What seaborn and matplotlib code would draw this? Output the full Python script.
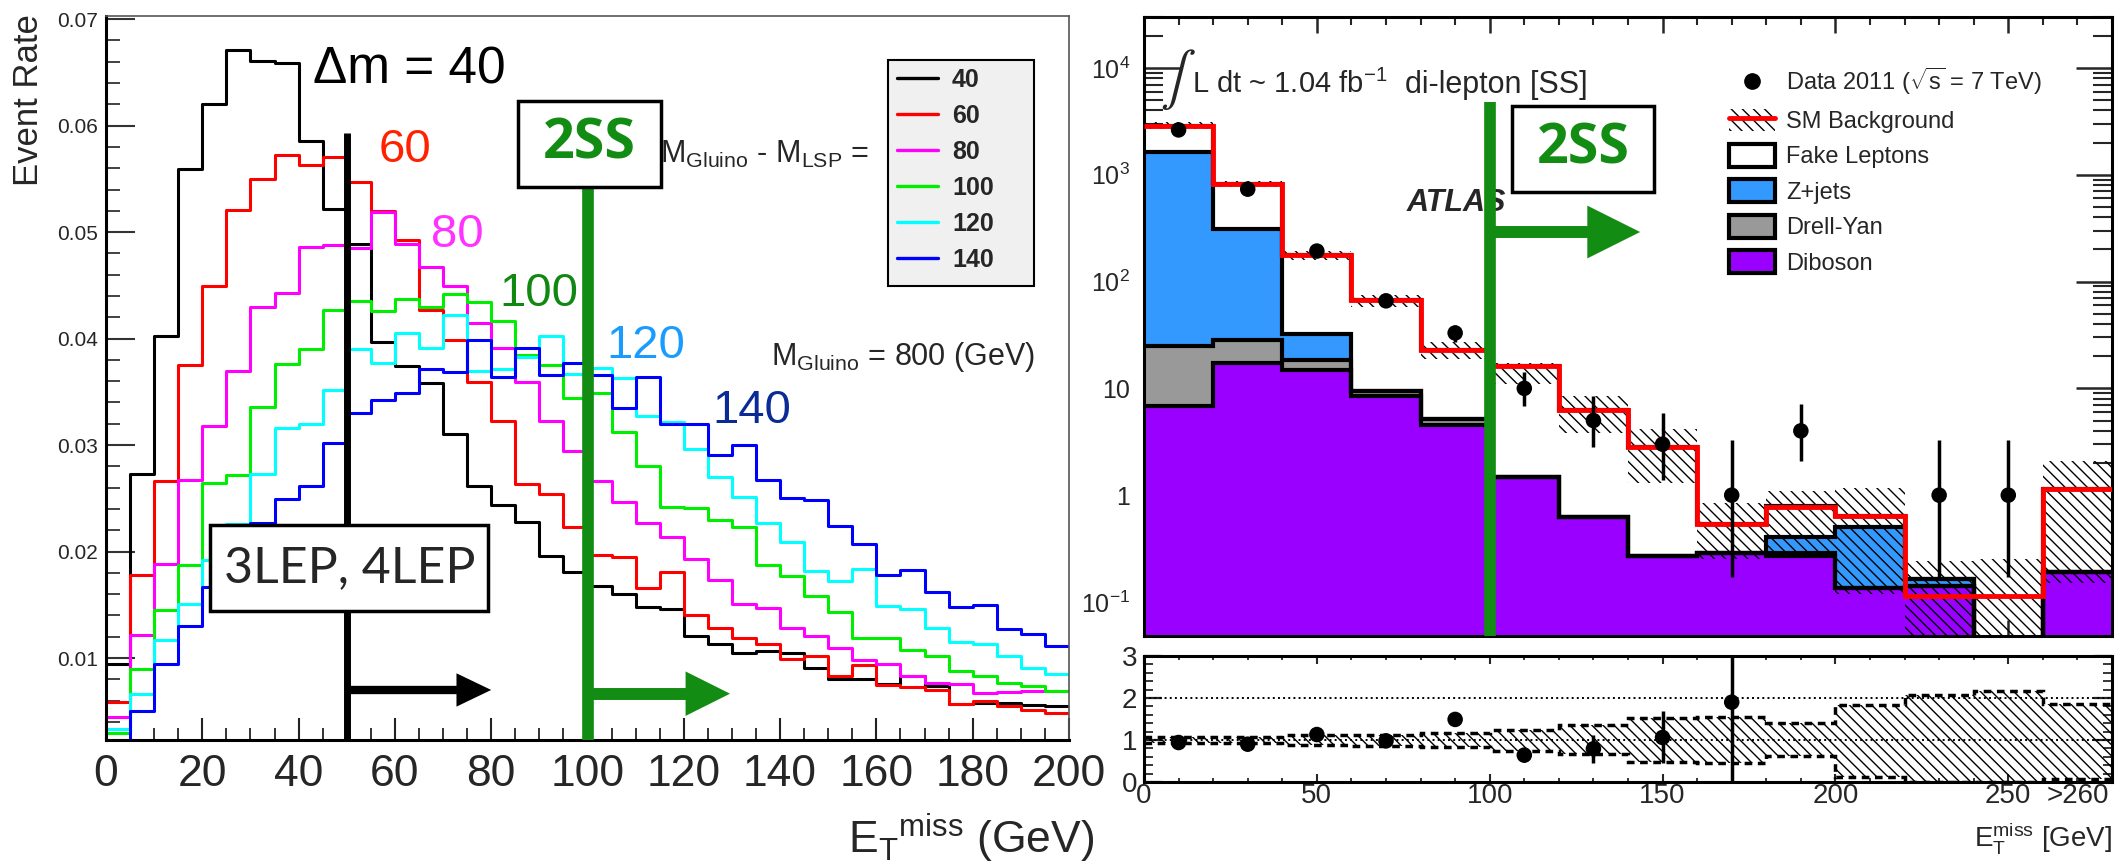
import numpy as np
import pandas as pd
import matplotlib
matplotlib.use("Agg")
import matplotlib.pyplot as plt
import seaborn as sns
from matplotlib.patches import Rectangle, Patch, FancyArrowPatch
from matplotlib.lines import Line2D
from matplotlib.ticker import FixedLocator, FuncFormatter, LogLocator, MultipleLocator, NullFormatter

# ---------------- data: left panel (normalised ETmiss shapes, 5 GeV bins, 0-200 GeV) -------------
dm_labels = ["40", "60", "80", "100", "120", "140"]
rate_40 = [0.0094, 0.0273, 0.0402, 0.0559, 0.0620, 0.0671, 0.0661, 0.0659, 0.0586, 0.0522,
           0.0489, 0.0397, 0.0374, 0.0358, 0.0310, 0.0262, 0.0244, 0.0228, 0.0196, 0.0181,
           0.0168, 0.0160, 0.0148, 0.0146, 0.0121, 0.0113, 0.0105, 0.0107, 0.0105, 0.0091,
           0.0080, 0.0080, 0.0076, 0.0083, 0.0074, 0.0057, 0.0058, 0.0058, 0.0056, 0.0055]
rate_60 = [0.0059, 0.0178, 0.0266, 0.0375, 0.0449, 0.0521, 0.0550, 0.0572, 0.0563, 0.0571,
           0.0547, 0.0520, 0.0493, 0.0427, 0.0399, 0.0359, 0.0323, 0.0263, 0.0254, 0.0223,
           0.0197, 0.0195, 0.0166, 0.0181, 0.0140, 0.0128, 0.0119, 0.0113, 0.0099, 0.0102,
           0.0083, 0.0093, 0.0075, 0.0073, 0.0070, 0.0057, 0.0060, 0.0055, 0.0051, 0.0048]
rate_80 = [0.0045, 0.0122, 0.0188, 0.0267, 0.0318, 0.0370, 0.0430, 0.0443, 0.0486, 0.0488,
           0.0485, 0.0519, 0.0489, 0.0467, 0.0449, 0.0415, 0.0391, 0.0359, 0.0323, 0.0294,
           0.0266, 0.0247, 0.0227, 0.0214, 0.0193, 0.0173, 0.0151, 0.0147, 0.0128, 0.0121,
           0.0109, 0.0098, 0.0094, 0.0083, 0.0077, 0.0076, 0.0067, 0.0068, 0.0069, 0.0069]
rate_100 = [0.0030, 0.0090, 0.0145, 0.0187, 0.0264, 0.0272, 0.0336, 0.0376, 0.0390, 0.0427,
            0.0435, 0.0426, 0.0437, 0.0430, 0.0442, 0.0434, 0.0417, 0.0385, 0.0375, 0.0344,
            0.0349, 0.0312, 0.0280, 0.0242, 0.0241, 0.0230, 0.0223, 0.0187, 0.0177, 0.0158,
            0.0143, 0.0119, 0.0119, 0.0108, 0.0102, 0.0088, 0.0083, 0.0077, 0.0074, 0.0069]
rate_120 = [0.0033, 0.0066, 0.0117, 0.0151, 0.0192, 0.0226, 0.0273, 0.0316, 0.0320, 0.0352,
            0.0390, 0.0377, 0.0405, 0.0391, 0.0422, 0.0370, 0.0371, 0.0383, 0.0402, 0.0367,
            0.0372, 0.0363, 0.0327, 0.0322, 0.0296, 0.0270, 0.0251, 0.0227, 0.0209, 0.0182,
            0.0172, 0.0184, 0.0149, 0.0146, 0.0128, 0.0115, 0.0113, 0.0102, 0.0091, 0.0085]
rate_140 = [0.0023, 0.0050, 0.0094, 0.0130, 0.0167, 0.0225, 0.0227, 0.0249, 0.0262, 0.0302,
            0.0330, 0.0342, 0.0349, 0.0371, 0.0369, 0.0399, 0.0364, 0.0391, 0.0366, 0.0377,
            0.0366, 0.0335, 0.0364, 0.0320, 0.0320, 0.0291, 0.0300, 0.0267, 0.0250, 0.0248,
            0.0224, 0.0207, 0.0178, 0.0183, 0.0162, 0.0148, 0.0150, 0.0127, 0.0123, 0.0111]

# ---------------- data: right panel (20 GeV bins, 0-280, last = overflow) -------------------------
data_2011 = [2630, 733, 193, 66, 33, 10, 5, 3, 1, 4, np.nan, 1, 1, np.nan]
data_hi = [2680, 760, 207, 74, 39, 14.3, 8.4, 5.9, 3.3, 7.2, np.nan, 3.3, 3.3, np.nan]
data_lo = [2580, 706, 179, 58, 27, 6.9, 2.8, 1.4, 0.17, 2.1, np.nan, 0.17, 0.17, np.nan]
sm_total = [2890, 817, 176, 67, 22.9, 16.2, 6.25, 2.83, 0.54, 0.78, 0.64, 0.114, 0.114, 1.15]
sm_band_lo = [2700, 760, 160, 58, 19, 11, 3.8, 1.3, 0.25, 0.30, 0.12, 0.001, 0.001, 0.15]
sm_band_hi = [3100, 880, 195, 75, 27, 17.3, 8.5, 4.2, 0.85, 1.1, 1.17, 0.24, 0.25, 2.1]
fake_leptons = [1270, 504, 144, 57.6, 17.7, 14.7, 5.6, 2.56, 0.25, 0.38, 0.13, 0.0, 0.0, 0.96]
z_jets = [1595, 284, 13.8, 0, 0, 0, 0, 0, 0, 0.12, 0.37, 0.023, 0, 0]
drell_yan = [18.2, 11.3, 3.6, 1.0, 0.7, 0.02, 0, 0, 0, 0.02, 0, 0, 0, 0]
diboson = [6.8, 17.2, 14.9, 8.4, 4.5, 1.47, 0.62, 0.27, 0.29, 0.27, 0.136, 0.14, 0.0, 0.19]

ratio_val = [0.94, 0.90, 1.13, 0.98, 1.49, 0.64, 0.79, 1.06, 1.90, np.nan, np.nan, np.nan, np.nan, np.nan]
ratio_hi = [0.97, 0.95, 1.21, 1.10, 1.65, 0.80, 1.13, 1.69, 6.0, np.nan, np.nan, np.nan, np.nan, np.nan]
ratio_lo = [0.91, 0.85, 1.05, 0.86, 1.33, 0.48, 0.46, 0.46, 0.0, np.nan, np.nan, np.nan, np.nan, np.nan]
ratio_band_lo = [0.93, 0.93, 0.87, 0.85, 0.83, 0.75, 0.66, 0.48, 0.46, 0.63, 0.12, 0.0, 0.0, 0.06]
ratio_band_hi = [1.07, 1.07, 1.12, 1.12, 1.17, 1.25, 1.36, 1.52, 1.54, 1.40, 1.83, 2.07, 2.17, 1.85]

x_tick_labels_R = ["0", "50", "100", "150", "200", "250"]

# ---------------- style --------------------------------------------------------------------------
sns.set_theme(style="white")
plt.rcParams["font.family"] = ["Liberation Sans", "DejaVu Sans"]
plt.rcParams["mathtext.fontset"] = "custom"
plt.rcParams["mathtext.rm"] = "Liberation Sans"
plt.rcParams["mathtext.it"] = "Liberation Sans:italic"
plt.rcParams["mathtext.bf"] = "Liberation Sans:bold"
plt.rcParams["hatch.linewidth"] = 1.0

W, H = 2119, 867
fig = plt.figure(figsize=(W / 100, H / 100), dpi=100)
fig.patch.set_facecolor("white")


def rect(x0, y0, x1, y1):
    return [x0 / W, 1 - y1 / H, (x1 - x0) / W, (y1 - y0) / H]


def fx(x):
    return x / W


def fy(y):
    return 1 - y / H


axL = fig.add_axes(rect(106, 16, 1069, 740))
axR = fig.add_axes(rect(1144, 17, 2112, 636))
axQ = fig.add_axes(rect(1144, 656, 2112, 782))

GREEN = "#128c12"

# ================================ LEFT PANEL ======================================================
nbinsL = len(rate_40)
centersL = np.arange(nbinsL) * 5 + 2.5
colorsL = ["#000000", "#ff0000", "#ff00ff", "#00ee00", "#00ffff", "#0000ff"]
series = [rate_40, rate_60, rate_80, rate_100, rate_120, rate_140]
df = pd.concat([pd.DataFrame({"met": centersL, "rate": s, "dm": lab})
                for s, lab in zip(series, dm_labels)], ignore_index=True)
sns.histplot(data=df, x="met", weights="rate", hue="dm", hue_order=dm_labels[::-1],
             bins=nbinsL, binrange=(0, 200), element="step", fill=False,
             palette=dict(zip(dm_labels, colorsL)), linewidth=2.2, legend=False, ax=axL)
axL.set_xlim(0, 200)
axL.set_ylim(0.0023, 0.0703)
axL.set_xlabel("")
axL.set_ylabel("")
axL.xaxis.set_major_locator(MultipleLocator(20))
axL.xaxis.set_minor_locator(MultipleLocator(5))
axL.yaxis.set_major_locator(FixedLocator([0.01, 0.02, 0.03, 0.04, 0.05, 0.06, 0.07]))
axL.yaxis.set_minor_locator(MultipleLocator(0.002))
axL.yaxis.set_major_formatter(FuncFormatter(lambda v, p: f"{v:.2f}"))
axL.tick_params(axis="x", which="major", direction="in", length=16, width=1.5, labelsize=32, pad=10,
                bottom=True, top=False, color="#222222")
axL.tick_params(axis="x", which="minor", direction="in", length=8.5, width=1.3, bottom=True, top=False,
                color="#222222")
axL.tick_params(axis="y", which="major", direction="in", length=21, width=1.5, labelsize=15, pad=6,
                left=True, right=False, color="#333333")
axL.tick_params(axis="y", which="minor", direction="in", length=10, width=1.3, left=True, right=False,
                color="#333333")
for s in ["left", "bottom"]:
    axL.spines[s].set_linewidth(2.2)
    axL.spines[s].set_color("black")
for s in ["top", "right"]:
    axL.spines[s].set_linewidth(1.2)
    axL.spines[s].set_color("#555555")

fig.text(fx(28), fy(14), "Event Rate", rotation=90, ha="center", va="top", fontsize=25)
fig.text(fx(1094), fy(853), r"E$_{\mathrm{T}}$$^{\mathrm{miss}}$ (GeV)", ha="right", va="baseline",
         fontsize=32)

# labels on curves
axL.text(43, 0.0640, "Δm = 40", fontsize=37, color="black", ha="left", va="baseline", zorder=6)
axL.text(56.7, 0.0566, "60", fontsize=34, color="#ff2200", ha="left", va="baseline", zorder=6)
axL.text(67.5, 0.0486, "80", fontsize=34, color="#ff33ff", ha="left", va="baseline", zorder=6)
axL.text(81.8, 0.0431, "100", fontsize=34, color="#118811", ha="left", va="baseline", zorder=6)
axL.text(103.9, 0.0382, "120", fontsize=34, color="#1a9cff", ha="left", va="baseline", zorder=6)
axL.text(126.0, 0.0321, "140", fontsize=34, color="#0a2a96", ha="left", va="baseline", zorder=6)
axL.text(115.0, 0.0565, r"M$_{\mathrm{Gluino}}$ - M$_{\mathrm{LSP}}$ =", fontsize=22, ha="left",
         va="baseline", zorder=6)
axL.text(138.1, 0.0375, r"M$_{\mathrm{Gluino}}$ = 800 (GeV)", fontsize=22, ha="left",
         va="baseline", zorder=6)

# cut lines and arrows
axL.plot([50, 50], [0.0023, 0.0593], color="black", lw=5, solid_capstyle="butt", zorder=3)
axL.plot([100, 100], [0.0023, 0.0542], color=GREEN, lw=8.4, solid_capstyle="butt", zorder=3)
axL.plot([50, 73.5], [0.0070, 0.0070], color="black", lw=6, solid_capstyle="butt", zorder=3)
axL.add_patch(FancyArrowPatch(posA=(60, 0.0070), posB=(80, 0.0070),
                              arrowstyle="-|>,head_length=25,head_width=12", mutation_scale=1,
                              lw=0, color="black", shrinkA=0, shrinkB=0, zorder=3))
axL.plot([100, 121], [0.00665, 0.00665], color=GREEN, lw=8.6, solid_capstyle="butt", zorder=3)
axL.add_patch(FancyArrowPatch(posA=(110, 0.00665), posB=(129.6, 0.00665),
                              arrowstyle="-|>,head_length=32,head_width=16", mutation_scale=1,
                              lw=0, color=GREEN, shrinkA=0, shrinkB=0, zorder=3))

# boxes
axL.add_patch(Rectangle((0.428, 0.764), 0.148, 0.119, transform=axL.transAxes, fc="white",
                        ec="black", lw=2.5, zorder=4))
axL.text(0.502, 0.8235, "2SS", transform=axL.transAxes, ha="center", va="center", fontsize=40,
         fontweight="bold", family=["Open Sans", "DejaVu Sans"], color=GREEN, zorder=5)
axL.add_patch(Rectangle((0.108, 0.178), 0.289, 0.119, transform=axL.transAxes, fc="white",
                        ec="black", lw=2.5, zorder=4))
axL.text(0.2534, 0.2376, "3LEP, 4LEP", transform=axL.transAxes, ha="center", va="center",
         fontsize=36, family=["Lato", "DejaVu Sans"], zorder=5)

# legend (left)
axL.add_patch(Rectangle((0.8120, 0.6271), 0.1516, 0.3122, transform=axL.transAxes,
                        fc="#f0f0f0", ec="black", lw=1.5, zorder=5))
hL = [Line2D([0], [0], color=c, lw=2.4) for c in colorsL]
legL = axL.legend(hL, dm_labels, loc="upper left", bbox_to_anchor=(0.8214, 0.928),
                  bbox_transform=axL.transAxes, frameon=False, borderpad=0, borderaxespad=0,
                  handlelength=1.64, handletextpad=0.56, labelspacing=0.48,
                  prop={"weight": "bold", "size": 18})
legL.set_zorder(6)

# ================================ RIGHT PANEL (main) ==============================================
edgesR = np.arange(0, 300, 20)
centersR = edgesR[:-1] + 10
l1 = np.array(diboson, float)
l2 = l1 + np.array(drell_yan, float)
l3 = l2 + np.array(z_jets, float)
l4 = l3 + np.array(fake_leptons, float)

axR.set_yscale("log")
axR.set_xlim(0, 280)
axR.set_ylim(0.048, 3.0e4)
for lay, col in [(l4, "white"), (l3, "#3399ff"), (l2, "#999999"), (l1, "#9900ff")]:
    axR.stairs(lay, edgesR, baseline=1e-4, fill=True, facecolor=col, edgecolor="none", lw=0, zorder=1)
for lay in [l4, l3, l2, l1]:
    axR.stairs(lay, edgesR, baseline=None, color="black", lw=3, zorder=2)
axR.stairs(sm_band_hi, edgesR, baseline=sm_band_lo, fill=True, facecolor="none", edgecolor="black",
           hatch="\\\\\\", lw=0, zorder=3)
axR.stairs(sm_total, edgesR, baseline=None, color="#ff0000", lw=3.5, zorder=4)
d = np.array(data_2011, float)
axR.errorbar(centersR, d, yerr=[d - np.array(data_lo), np.array(data_hi) - d], fmt="none",
             ecolor="black", elinewidth=2.5, capsize=0, zorder=5)
sns.scatterplot(x=centersR, y=d, color="black", s=125, edgecolor="none", ax=axR, zorder=6,
                legend=False)

axR.yaxis.set_major_locator(FixedLocator([0.1, 1, 10, 100, 1000, 10000]))
ylab = {-1: r"10$^{\mathrm{-1}}$", 0: "1", 1: "10", 2: r"10$^{2}$", 3: r"10$^{3}$", 4: r"10$^{4}$"}
axR.yaxis.set_major_formatter(FuncFormatter(lambda v, p: ylab.get(int(round(np.log10(v))), "")))
axR.yaxis.set_minor_locator(LogLocator(base=10, subs=np.arange(2, 10), numticks=30))
axR.yaxis.set_minor_formatter(NullFormatter())
axR.xaxis.set_major_locator(MultipleLocator(50))
axR.xaxis.set_minor_locator(MultipleLocator(10))
axR.tick_params(axis="y", which="major", direction="in", length=26, width=1.8, labelsize=18, pad=10,
                left=True, right=True)
axR.tick_params(axis="y", which="minor", direction="in", length=13.5, width=1.5, left=True, right=True)
axR.tick_params(axis="x", which="major", direction="in", length=11.5, width=1.8, top=True, bottom=True,
                labelbottom=False)
axR.tick_params(axis="x", which="minor", direction="in", length=5.8, width=1.5, top=True, bottom=True)
for s in axR.spines.values():
    s.set_linewidth(2.2)
    s.set_color("black")
axR.set_xlabel("")
axR.set_ylabel("")

# annotations right
fig.text(fx(1160), fy(80), r"$\int$", fontsize=38, ha="left", va="center", math_fontfamily="stix")
fig.text(fx(1192), fy(93), r"L dt ~ 1.04 fb$^{\mathrm{-1}}$", fontsize=21, ha="left", va="baseline")
fig.text(fx(1405), fy(93), "di-lepton [SS]", fontsize=22, ha="left", va="baseline")
axR.text(76, 545, "ATLAS", fontsize=22, fontweight="bold", fontstyle="italic", ha="left",
         va="center", zorder=5.5)
axR.plot([100, 100], [0.048, 4800], color=GREEN, lw=8.4, solid_capstyle="butt", zorder=7)
axR.plot([100, 129], [291, 291], color=GREEN, lw=8.6, solid_capstyle="butt", zorder=7)
axR.add_patch(FancyArrowPatch(posA=(115, 291), posB=(143.5, 291),
                              arrowstyle="-|>,head_length=38,head_width=19", mutation_scale=1,
                              lw=0, color=GREEN, shrinkA=0, shrinkB=0, zorder=7))
axR.add_patch(Rectangle((0.380, 0.717), 0.147, 0.139, transform=axR.transAxes, fc="white",
                        ec="black", lw=2.5, zorder=8))
axR.text(0.4535, 0.7865, "2SS", transform=axR.transAxes, ha="center", va="center", fontsize=40,
         fontweight="bold", family=["Open Sans", "DejaVu Sans"], color=GREEN, zorder=9)

# legend (right)
hR = [Line2D([0], [0], marker="o", ls="none", color="black", ms=11),
      (Patch(facecolor="white", edgecolor="black", hatch="\\\\\\", lw=0),
       Line2D([0], [0], color="#ff0000", lw=3.5)),
      Patch(facecolor="white", edgecolor="black", lw=3),
      Patch(facecolor="#3399ff", edgecolor="black", lw=3),
      Patch(facecolor="#999999", edgecolor="black", lw=3),
      Patch(facecolor="#9900ff", edgecolor="black", lw=3)]
labR = [r"Data 2011 ($\sqrt{\mathrm{s}}$ = 7 TeV)", "SM Background", "Fake Leptons", "Z+jets",
        "Drell-Yan", "Diboson"]
legR = axR.legend(hR, labR, loc="upper left", bbox_to_anchor=(0.6043, 0.9208),
                  bbox_transform=axR.transAxes, frameon=False, borderpad=0, borderaxespad=0,
                  handlelength=1.95, handleheight=1.1, handletextpad=0.47, labelspacing=0.47,
                  fontsize=17)
legR.set_zorder(10)

# ================================ RATIO PANEL =====================================================
axQ.set_xlim(0, 280)
axQ.set_ylim(0, 3)
axQ.stairs(ratio_band_hi, edgesR, baseline=ratio_band_lo, fill=True, facecolor="none",
           edgecolor="black", hatch="\\\\\\", lw=0, zorder=2)
axQ.stairs(ratio_band_hi, edgesR, baseline=None, color="black", lw=2.5, ls=(0, (2.2, 1.6)), zorder=3)
axQ.stairs(ratio_band_lo, edgesR, baseline=None, color="black", lw=2.5, ls=(0, (2.2, 1.6)), zorder=3)
axQ.axhline(1, color="black", ls=":", lw=1.4, zorder=1)
axQ.axhline(2, color="black", ls=":", lw=1.4, zorder=1)
r = np.array(ratio_val, float)
axQ.errorbar(centersR, r, yerr=[r - np.array(ratio_lo), np.array(ratio_hi) - r], fmt="none",
             ecolor="black", elinewidth=2.5, capsize=0, zorder=4)
sns.scatterplot(x=centersR, y=r, color="black", s=125, edgecolor="none", ax=axQ, zorder=5,
                legend=False)
axQ.xaxis.set_major_locator(FixedLocator([0, 50, 100, 150, 200, 250]))
axQ.xaxis.set_major_formatter(FuncFormatter(lambda v, p: x_tick_labels_R[int(round(v / 50))]))
axQ.xaxis.set_minor_locator(MultipleLocator(10))
axQ.yaxis.set_major_locator(MultipleLocator(1))
axQ.yaxis.set_minor_locator(MultipleLocator(0.2))
axQ.tick_params(axis="x", which="major", direction="in", length=6, width=1.5, top=True, bottom=True,
                labelsize=20, pad=1)
axQ.tick_params(axis="x", which="minor", direction="in", length=3, width=1.3, top=True, bottom=True)
axQ.tick_params(axis="y", which="major", direction="in", length=13, width=1.6, left=True, right=True,
                labelsize=20, pad=5)
axQ.tick_params(axis="y", which="minor", direction="in", length=6.5, width=1.3, left=True, right=True)
for s in axQ.spines.values():
    s.set_linewidth(2.2)
    s.set_color("black")
axQ.set_xlabel("")
axQ.set_ylabel("")
axQ.annotate(">260", xy=(270, 0), xycoords=("data", "axes fraction"), xytext=(0, -1),
             textcoords="offset points", ha="center", va="top", fontsize=20)
fig.text(fx(2112), fy(847), r"E$_{\mathrm{T}}^{\mathrm{miss}}$ [GeV]", ha="right", va="baseline",
         fontsize=20)

fig.savefig("out.png", dpi=100)
